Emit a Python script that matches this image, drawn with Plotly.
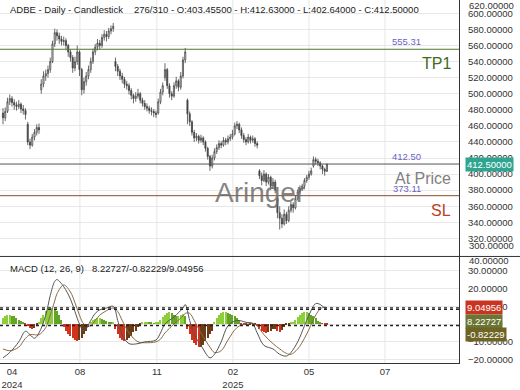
import plotly.graph_objects as go

# ---------------- data ----------------
opens = [476,470,478,490,494,489,486,484,487,481,479,462,440,436,446,452,458,505,512,522,
         525,530,540,562,576,572,568,565,566,560,552,545,532,540,552,530,505,515,522,530,
         540,552,558,563,560,570,574,571,578,581,540,534,528,522,518,512,510,504,498,494,
         497,500,492,488,484,482,479,478,476,476,490,502,520,530,510,500,497,510,516,508,
         522,542,492,475,465,452,445,447,442,445,440,432,422,410,420,428,433,438,436,442,
         440,444,446,450,460,462,455,448,443,440,446,442,444,438,404,398,392,400,390,396,
         385,390,370,352,345,338,350,342,355,362,358,370,378,382,385,392,396,400,410,418,
         416,414,410,406,403.455]
highs = [482,483,495,499,497,493,490,492,489,486,482,465,444,450,456,462,463,518,528,530,
         535,545,566,581,580,576,572,571,569,562,555,548,546,560,554,532,520,527,535,545,
         556,562,568,567,574,579,578,582,585,588,545,537,531,526,521,516,513,507,500,502,
         506,502,495,492,488,485,483,481,479,494,506,514,538,532,513,503,514,521,518,527,
         546,557,494,478,467,455,451,449,449,447,442,434,424,424,432,437,442,441,446,445,
         448,450,455,464,466,464,458,451,446,450,448,448,446,441,406,402,405,402,400,398,
         395,393,372,360,350,356,353,360,366,365,374,381,386,388,395,399,404,408,422,421,
         419,416,412,408,412.63]
lows = [462,466,476,486,484,480,479,481,476,474,468,436,431,434,442,448,450,500,508,516,
        520,526,538,558,566,562,560,560,554,546,540,526,528,536,522,498,500,510,518,526,
        537,548,554,555,557,566,565,568,574,577,528,522,517,513,507,505,499,493,488,490,
        494,488,484,480,478,475,473,471,470,474,487,498,516,506,495,492,495,506,503,505,
        519,538,462,460,448,440,441,438,439,436,428,418,404,407,417,425,430,432,434,436,
        437,441,443,448,456,451,444,439,436,438,438,439,434,432,394,386,390,385,387,380,
        382,376,345,331,333,336,338,340,352,352,356,367,375,379,382,389,393,398,408,412,
        410,406,400,398,402.64]
closes = [470,478,490,494,489,486,484,487,481,479,474,440,436,446,452,458,455,512,522,525,
          530,540,562,576,572,568,565,566,560,552,545,532,540,552,530,505,515,522,530,540,
          552,558,563,560,570,574,571,578,581,584,534,528,522,518,512,510,504,498,494,497,
          500,492,488,484,482,479,478,476,474,490,502,510,530,510,500,497,510,516,508,522,
          542,552,475,465,452,445,447,442,445,440,432,422,410,420,428,433,438,436,442,440,
          444,446,450,460,462,455,448,443,440,446,442,444,438,436,398,392,400,390,396,385,
          390,380,352,345,338,350,342,355,362,358,370,378,382,385,392,396,400,404,418,416,
          414,410,406,403.5,412.5]
bar_idx = list(range(len(closes)))

macd_idx = [0,3,7,10,12,14,16,19,21,23,24,27,30,32,34,36,39,41,43,46,49,51,53,56,60,63,
            68,70,72,76,80,81,83,85,88,92,94,97,100,104,108,111,113,116,120,123,126,128,
            131,134,136,139,141,143,144]
macd_vals = [-19,-16,-10,-4,-6,-8,-5,5,16,24,25,21,14,7,0,-4,2,6,8,9,10,2,-6,-11,-11,-10,
             -9,-5,0,4,9,11,2,-6,-12,-19,-17,-10,-1,2,1,0,-5,-12,-14,-17,-18,-16,
             -10,-1,5,11.5,11,9,8.22727]
signal_vals = [-14,-15,-13,-8,-6,-6,-6,-2,5,13,17,22,18,12,5,0,-1,2,5,7.5,9,7,2,-5,-10,-10.5,
               -10,-8.5,-5,0,4.5,6,6,2,-5,-13,-16,-15,-9,-2,0.5,0.5,-1,-6,-11,-14,-16.5,-17,
               -14,-8,-3,5,8.5,9.5,9.04956]
hist_vals = [3,4,5,5,4.5,4,3,2,1.5,
             0.5,-0.5,
             -1.5,-2.5,-3,-2.5,-1,
             1,3,5,7,8,9,9,8,7,5,2,
             -2,-4,-6,-7,-8,-9,-10,-9,-8,-6,-4,-2,
             1,2,2.5,3,3,2.5,2,1.5,1,
             0.5,0.5,
             -3,-6,-8,-9,-10,-9,-8,-7,-5,-4,-2,-1,
             0.5,0.8,1,0.8,0.5,0.3,0.5,
             1,2,3.5,5,6,6.5,6,5,4,4,5,5.5,4,
             -3,-6,-9,-11,-12,-13,-13,-12,-10,-8,-6,-4,
             1,3,5,6,6.5,6.5,6,5.5,5,4,3,2,
             -0.5,-1,-1,-1.5,-1,-1,-1,
             -1.5,-3,-4,-5,-5.5,-5,-4,-3,-3,-4,-5,-3.5,-2,-1,
             -0.5,0.5,1,
             2,3.5,5,6,6.5,6.5,6,5,4,3,1.5,
             0.5,-0.2,-0.5,-0.82229]

tick_idx = [4, 34.2, 68.4, 102.2, 136, 169.8]
tick_text = ["04<br>2024", "08", "11", "02<br>2025", "05", "07"]
price_ticks = [320, 340, 360, 380, 400, 420, 440, 460, 480, 500, 520, 540, 560, 580, 600]
macd_ticks = [-20, -10, 0, 10, 20, 30]

level_values = [555.31, 412.50, 373.11]
level_names = ["TP1", "At Price", "SL"]
level_line_colors = ["#4f7a2a", "#555555", "#8a4a28"]
level_name_colors = ["#3f6a22", "#808080", "#b8402a"]

macd_marks = [9.04956, 8.22727, -0.82229]
macd_mark_text = ["9.04956", "8.22727", "-0.82229"]
macd_mark_bg = ["#c8341f", "#6b7634", "#6d6426"]
macd_mark_shift = [0, -12, -9]

last_price = 412.50

# ---------------- figure ----------------
FONT = "Liberation Sans, Arial, sans-serif"
W, H = 520, 390
L, R, T, B = 0, 61, 0, 22
ph = H - T - B
split = 1 - 260 / ph

hist_colors = []
prev = 0
for v in hist_vals:
    if v >= 0:
        hist_colors.append("#8ccf3a" if v >= prev else "#62a424")
    else:
        hist_colors.append("#d2321c" if v < prev else "#6b3a16")
    prev = v

fig = go.Figure()
fig.add_trace(go.Candlestick(
    x=bar_idx, open=opens, high=highs, low=lows, close=closes,
    increasing=dict(line=dict(color="#444444", width=0.8), fillcolor="#ffffff"),
    decreasing=dict(line=dict(color="#444444", width=0.8), fillcolor="#444444"),
    whiskerwidth=0, showlegend=False, xaxis="x", yaxis="y", hoverinfo="skip"))
fig.add_trace(go.Bar(x=bar_idx, y=hist_vals, marker=dict(color=hist_colors, line=dict(width=0)),
                     width=0.5, showlegend=False, xaxis="x2", yaxis="y2"))
fig.add_trace(go.Scatter(x=macd_idx, y=signal_vals, mode="lines", line=dict(color="#8b6a45", width=1),
                         line_shape="spline", showlegend=False, xaxis="x2", yaxis="y2"))
fig.add_trace(go.Scatter(x=macd_idx, y=macd_vals, mode="lines", line=dict(color="#555555", width=1),
                         line_shape="spline", showlegend=False, xaxis="x2", yaxis="y2"))

xr = [-1.33, 202.7]
axis_font = dict(family=FONT, size=9.5, color="#333333")

shapes = []
for t in tick_idx[1:]:
    shapes.append(dict(type="line", xref="x", yref="paper", x0=t, x1=t, y0=0, y1=1,
                       line=dict(color="#e6e6e6", width=1), layer="below"))
for v, c in zip(level_values, level_line_colors):
    shapes.append(dict(type="line", xref="paper", yref="y", x0=0, x1=1, y0=v, y1=v,
                       line=dict(color=c, width=1)))
for v in macd_marks:
    shapes.append(dict(type="line", xref="paper", yref="y2", x0=0, x1=1, y0=v, y1=v,
                       line=dict(color="#222222", width=1.3, dash="dot")))
shapes.append(dict(type="line", xref="paper", yref="paper", x0=0, x1=W / (W - R), y0=split, y1=split,
                   line=dict(color="#333333", width=1)))

ann = []
ann.append(dict(text="ADBE - Daily - Candlestick", x=8 / (W - R), y=1 - 10 / ph, xref="paper", yref="paper",
                xanchor="left", yanchor="middle", showarrow=False, font=dict(family=FONT, size=9.5, color="#222")))
ann.append(dict(text="276/310 - O:403.45500 - H:412.63000 - L:402.64000 - C:412.50000",
                x=132 / (W - R), y=1 - 10 / ph, xref="paper", yref="paper",
                xanchor="left", yanchor="middle", showarrow=False, font=dict(family=FONT, size=9.5, color="#222")))
ann.append(dict(text="MACD (12, 26, 9)", x=8 / (W - R), y=1 - 272 / ph, xref="paper", yref="paper",
                xanchor="left", yanchor="middle", showarrow=False, font=dict(family=FONT, size=9.5, color="#222")))
ann.append(dict(text="8.22727/-0.82229/9.04956", x=90 / (W - R), y=1 - 272 / ph, xref="paper", yref="paper",
                xanchor="left", yanchor="middle", showarrow=False, font=dict(family=FONT, size=9.5, color="#222")))
for v, name, nc in zip(level_values, level_names, level_name_colors):
    ann.append(dict(text=f"{v:.2f}", x=423 / (W - R), y=v, xref="paper", yref="y", xanchor="right",
                    yanchor="bottom", yshift=0, showarrow=False,
                    font=dict(family=FONT, size=9.5, color="#6a62c4")))
    ann.append(dict(text=name, x=453 / (W - R), y=v, xref="paper", yref="y", xanchor="right",
                    yanchor="top", yshift=-4, showarrow=False,
                    font=dict(family=FONT, size=16, color=nc)))
ann.append(dict(text="Aringer", x=260 / (W - R), y=1 - 195 / ph, xref="paper", yref="paper",
                xanchor="center", yanchor="middle", showarrow=False,
                font=dict(family=FONT, size=28, color="rgba(110,110,110,0.85)")))
# clamped edge labels of the right axes
for txt, ypx in [("620.00000", 6), ("300.00000", 249), ("40.00000", 264)]:
    ann.append(dict(text=txt, x=467 / (W - R), y=1 - ypx / ph, xref="paper", yref="paper",
                    xanchor="left", yanchor="middle", showarrow=False, font=axis_font))
ann.append(dict(text=f"{last_price:.5f}", x=465 / (W - R), y=last_price, xref="paper", yref="y",
                xanchor="left", yanchor="middle", showarrow=False, bgcolor="#2ea591", borderpad=1,
                font=dict(family=FONT, size=9.5, color="white")))
for v, txt, bg, sh in zip(macd_marks, macd_mark_text, macd_mark_bg, macd_mark_shift):
    ann.append(dict(text=txt, x=465 / (W - R), y=v, xref="paper", yref="y2", yshift=sh,
                    xanchor="left", yanchor="middle", showarrow=False, bgcolor=bg, borderpad=1,
                    font=dict(family=FONT, size=9.5, color="white")))

fig.update_layout(
    width=W, height=H, margin=dict(l=L, r=R, t=T, b=B),
    paper_bgcolor="white", plot_bgcolor="white",
    font=dict(family=FONT, size=9.5, color="#333"),
    showlegend=False, bargap=0,
    xaxis=dict(domain=[0, 1], range=xr, anchor="y", showticklabels=False, showgrid=False,
               zeroline=False, rangeslider=dict(visible=False), showline=False),
    xaxis2=dict(domain=[0, 1], range=xr, anchor="y2", matches="x", tickvals=tick_idx, ticktext=tick_text,
                showgrid=False, zeroline=False, showline=True, linecolor="#333333", linewidth=1,
                ticks="", tickfont=axis_font),
    yaxis=dict(domain=[split, 1], range=[297.5, 616.6], side="right", anchor="x", tickvals=price_ticks,
               tickformat=".5f", gridcolor="#e8e8e8", zeroline=False, showline=True,
               linecolor="#333333", linewidth=1, ticks="", ticklabelstandoff=6, tickfont=axis_font),
    yaxis2=dict(domain=[0, split], range=[-21.9, 38], side="right", anchor="x2", tickvals=macd_ticks,
                tickformat=".5f", gridcolor="#e8e8e8", zeroline=False, showline=True,
                linecolor="#333333", linewidth=1, ticks="", ticklabelstandoff=6, tickfont=axis_font),
    shapes=shapes, annotations=ann,
)

fig.write_html("out.html")
